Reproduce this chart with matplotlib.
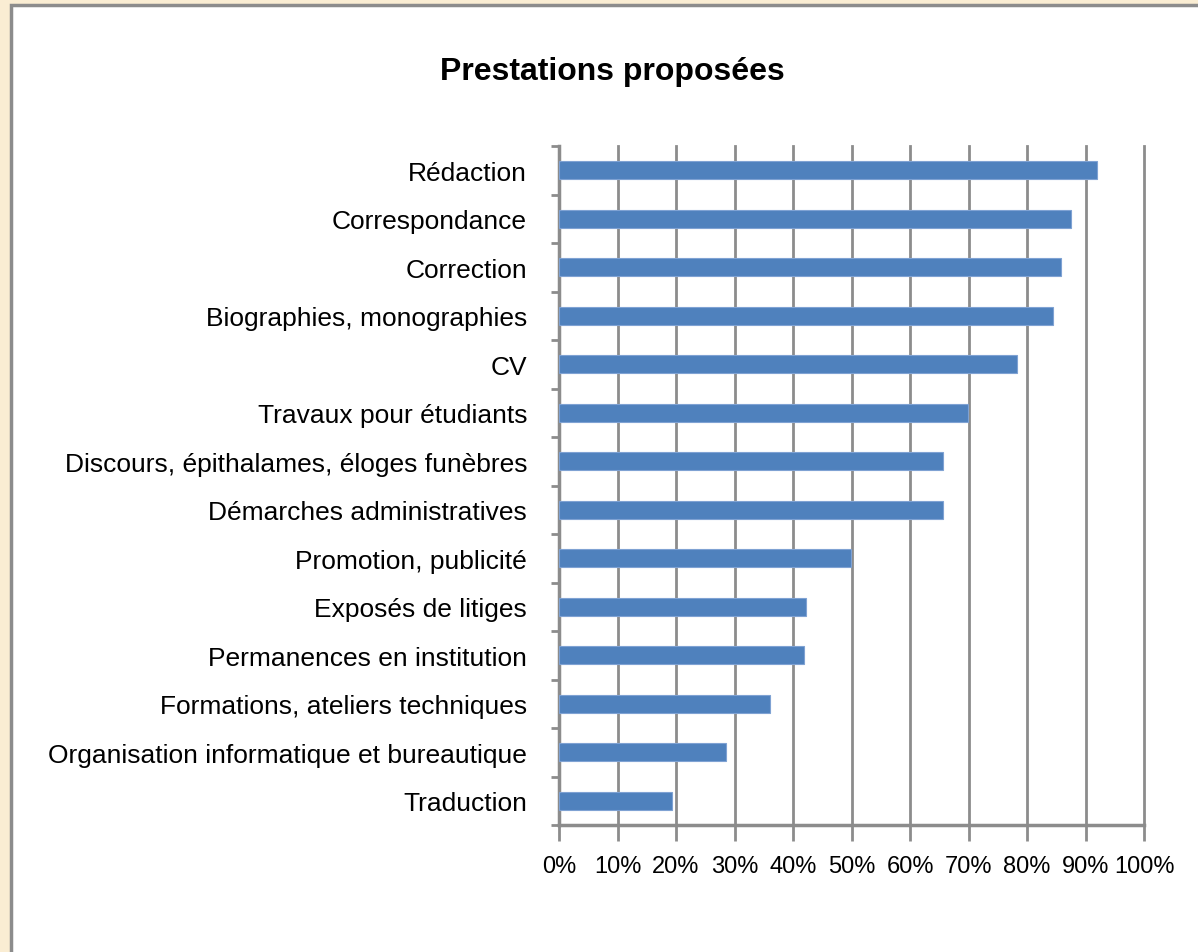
import matplotlib.pyplot as plt
from matplotlib.patches import Rectangle
import matplotlib.ticker as mtick

categories = ["Rédaction", "Correspondance", "Correction", "Biographies, monographies", "CV",
              "Travaux pour étudiants", "Discours, épithalames, éloges funèbres",
              "Démarches administratives", "Promotion, publicité", "Exposés de litiges",
              "Permanences en institution", "Formations, ateliers techniques",
              "Organisation informatique et bureautique", "Traduction"]
values = [0.92, 0.875, 0.858, 0.844, 0.783, 0.699, 0.656, 0.656, 0.499, 0.422,
          0.419, 0.361, 0.285, 0.193]
xticks = [i / 10 for i in range(11)]

plt.rcParams['font.family'] = ['Liberation Sans', 'DejaVu Sans']

fig = plt.figure(figsize=(11.98, 9.53), dpi=100)
fig.patch.set_facecolor('#FAEDD3')
# white chart area with grey border on left/top
fig.add_artist(Rectangle((11 / 1198, -1), 2, 2 - 6 / 953, transform=fig.transFigure,
                         facecolor='white', edgecolor='#8C8C8C', linewidth=2.5, zorder=0))

ax = fig.add_axes([559 / 1198, 1 - 826 / 953, 585 / 1198, 679 / 953])
ax.set_facecolor('none')
y = list(range(len(categories)))[::-1]
ax.barh(y, values, height=0.38, color='#4F81BD', edgecolor='#7FA2D3', linewidth=0.8, zorder=3)

ax.set_xlim(0, 1)
ax.set_ylim(-0.5, len(categories) - 0.5)
ax.set_xticks(xticks)
ax.xaxis.set_major_formatter(mtick.PercentFormatter(1.0, decimals=0))
ax.set_yticks(y)
ax.set_yticklabels(categories)
ax.set_yticks([i + 0.5 for i in range(-1, len(categories))], minor=True)

ax.grid(axis='x', color='#8C8C8C', linewidth=2, zorder=0)
for gl in ax.get_xgridlines():
    gl.set_clip_on(False)
for s in ['top', 'right']:
    ax.spines[s].set_visible(False)
for s in ['left', 'bottom']:
    ax.spines[s].set_color('#8C8C8C')
    ax.spines[s].set_linewidth(2.5)

ax.tick_params(axis='y', which='major', length=0, pad=23, labelsize=19)
ax.tick_params(axis='y', which='minor', length=6, width=2, color='#8C8C8C')
ax.tick_params(axis='x', length=11.5, width=2, color='#8C8C8C', pad=10, labelsize=17)

fig.text(612 / 1198, 1 - 72 / 953, "Prestations proposées", ha='center', va='center',
         fontsize=23, fontweight='bold')

fig.savefig('out.png', dpi=100, facecolor=fig.get_facecolor())
